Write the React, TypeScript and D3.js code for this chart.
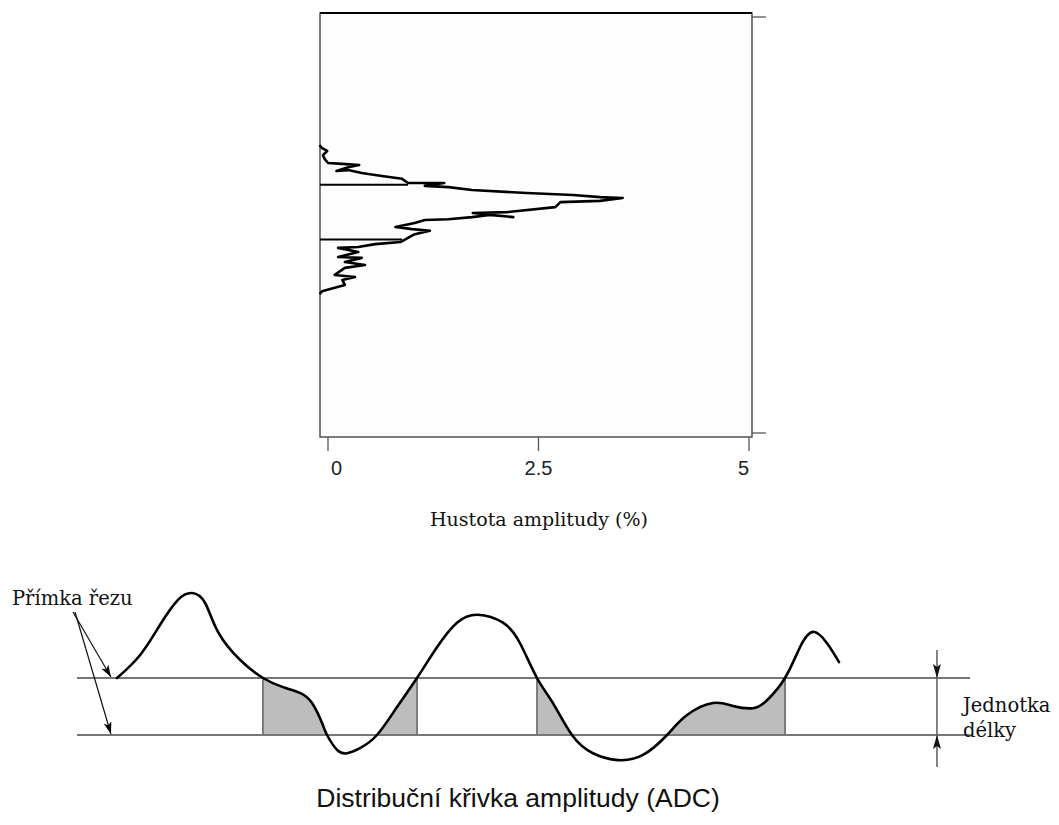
import React, { useEffect, useRef } from "react";
import * as d3 from "d3";

// ---------- Top chart: amplitude density (density %, amplitude level) ----------
const densityTicks = [0, 2.5, 5];
const densityTickLabels = ["0", "2.5", "5"];
const amplitudeTicks = [0, 100];

const densityValues = [
  -0.1, -0.07, -0.01, -0.06, -0.04, 0, 0.17, 0.37, 0.24, 0.1, 0.24, 0.4, 0.64, 0.88, 0.95,
  1.15, 1.38, 1.15, 1.43, 1.71, 2.36, 2.91, 3.23, 3.5, 3.23, 2.76, 2.7, 2.13, 1.72, 2.2,
  1.92, 1.71, 1.43, 1.15, 1.03, 0.8, 1.0, 1.21, 1.03, 0.95, 0.86, 0.56, 0.36, 0.12, 0.36,
  0.12, 0.4, 0.2, 0.44, 0.2, 0.08, 0.32, 0.17, 0.2, 0.08, -0.07, -0.1,
];
const amplitudeValues = [
  69.2, 68.5, 67.8, 66.8, 65.9, 64.9, 64.7, 64.4, 63.9, 63.0, 63.2, 62.5, 61.8, 61.1, 60.1,
  60.1, 60.1, 59.4, 59.1, 58.4, 57.7, 57.2, 56.7, 56.5, 55.8, 55.5, 54.3, 53.1, 52.9, 51.9,
  52.4, 51.9, 51.4, 51.2, 50.5, 49.5, 49.0, 48.6, 47.8, 46.9, 45.9, 45.4, 44.7, 44.5, 43.5,
  42.3, 42.1, 41.1, 40.4, 39.7, 38.0, 37.5, 36.8, 35.6, 34.9, 34.1, 33.4,
];
const densityCutLevels = [59.7, 46.5];
const densityCutEnds = [0.95, 0.88];

// ---------- Bottom chart: amplitude distribution curve ----------
const adcX = [
  4.48, 7.05, 9.29, 11.31, 12.88, 14.33, 15.79, 18.25, 20.83,
  23.07, 24.97, 26.32, 27.44, 28.0, 29.12, 30.24, 31.69, 33.59, 35.83, 38.07, 40.31, 42.55,
  44.9, 47.7, 49.61, 51.51, 53.3, 55.43, 57.78, 60.58, 63.38, 66.07, 68.31, 71.22, 73.46,
  75.7, 77.27, 79.28, 80.96, 82.42, 83.99, 85.33,
];
const adcY = [
  1.0, 1.4, 1.93, 2.37, 2.49, 2.32, 1.81, 1.32, 1.0,
  0.84, 0.74, 0.56, 0.21, 0, -0.26, -0.32, -0.23, 0, 0.49, 1.0, 1.54, 1.97, 2.11, 1.97, 1.61,
  1.0, 0.56, 0, -0.32, -0.44, -0.35, 0, 0.35, 0.56, 0.51, 0.47, 0.61, 1.0, 1.54, 1.81, 1.61,
  1.28,
];
const adcCutLevels = [1, 0];

const xAxisTitle = "Hustota amplitudy (%)";
const cutLabel = "Přímka řezu";
const unitLabel = ["Jednotka", "délky"];
const bottomTitle = "Distribuční křivka amplitudy (ADC)";

const SERIF = "'DejaVu Serif', serif";
const SANS = "'Liberation Sans', Arial, sans-serif";

export default function App() {
  const ref = useRef<SVGSVGElement>(null);

  useEffect(() => {
    const svg = d3.select(ref.current);
    svg.selectAll("*").remove();

    const defs = svg.append("defs");
    defs
      .append("marker")
      .attr("id", "arrowHead")
      .attr("viewBox", "0 0 12 8")
      .attr("refX", 12)
      .attr("refY", 4)
      .attr("markerWidth", 12)
      .attr("markerHeight", 8)
      .attr("markerUnits", "userSpaceOnUse")
      .attr("orient", "auto")
      .append("path")
      .attr("d", "M0,0 L12,4 L0,8 L3,4 Z")
      .attr("fill", "#000");
    defs
      .append("marker")
      .attr("id", "unitHead")
      .attr("viewBox", "0 0 14 8")
      .attr("refX", 14)
      .attr("refY", 4)
      .attr("markerWidth", 14)
      .attr("markerHeight", 8)
      .attr("markerUnits", "userSpaceOnUse")
      .attr("orient", "auto")
      .append("path")
      .attr("d", "M0,0 L14,4 L0,8 L3,4 Z")
      .attr("fill", "#111");

    // ---------------- Top chart ----------------
    const xD = d3.scaleLinear().domain([0, 5]).range([328, 749]);
    const yA = d3.scaleLinear().domain([0, 100]).range([433, 17]);
    const frame = { x0: 320, x1: 752, y0: 13, y1: 437 };

    const top = svg.append("g");
    top
      .append("rect")
      .attr("x", frame.x0)
      .attr("y", frame.y0)
      .attr("width", frame.x1 - frame.x0)
      .attr("height", frame.y1 - frame.y0)
      .attr("fill", "#fdfdfd")
      .attr("stroke", "#444")
      .attr("stroke-width", 1.4);
    top
      .append("line")
      .attr("x1", frame.x0)
      .attr("x2", frame.x1)
      .attr("y1", frame.y0)
      .attr("y2", frame.y0)
      .attr("stroke", "#000")
      .attr("stroke-width", 1.8);

    top
      .selectAll("line.rtick")
      .data(amplitudeTicks)
      .join("line")
      .attr("class", "rtick")
      .attr("x1", frame.x1)
      .attr("x2", frame.x1 + 14)
      .attr("y1", (d) => yA(d))
      .attr("y2", (d) => yA(d))
      .attr("stroke", "#555")
      .attr("stroke-width", 1.3);

    top
      .selectAll("line.btick")
      .data(densityTicks)
      .join("line")
      .attr("class", "btick")
      .attr("x1", (d) => xD(d))
      .attr("x2", (d) => xD(d))
      .attr("y1", frame.y1)
      .attr("y2", frame.y1 + 14)
      .attr("stroke", "#555")
      .attr("stroke-width", 1.3);
    top
      .selectAll("text.blabel")
      .data(densityTicks)
      .join("text")
      .attr("class", "blabel")
      .attr("x", (d, i) => xD(d) + (i === 0 ? 3 : 0))
      .attr("y", 475)
      .attr("text-anchor", (d, i) => (i === 0 ? "start" : i === densityTicks.length - 1 ? "end" : "middle"))
      .attr("font-family", SANS)
      .attr("font-size", 20)
      .attr("fill", "#222")
      .text((d, i) => densityTickLabels[i]);

    top
      .append("text")
      .attr("x", 539)
      .attr("y", 526)
      .attr("text-anchor", "middle")
      .attr("font-family", SERIF)
      .attr("font-size", 19)
      .attr("fill", "#111")
      .text(xAxisTitle);

    top
      .selectAll("line.dcut")
      .data(densityCutLevels)
      .join("line")
      .attr("class", "dcut")
      .attr("x1", frame.x0)
      .attr("x2", (d, i) => xD(densityCutEnds[i]))
      .attr("y1", (d) => yA(d))
      .attr("y2", (d) => yA(d))
      .attr("stroke", "#000")
      .attr("stroke-width", 2);

    const densLine = d3
      .line<number>()
      .x((d) => xD(d))
      .y((d, i) => yA(amplitudeValues[i]));
    top
      .append("path")
      .attr("d", densLine(densityValues) || "")
      .attr("fill", "none")
      .attr("stroke", "#000")
      .attr("stroke-width", 2.6)
      .attr("stroke-linejoin", "round");

    // ---------------- Bottom chart ----------------
    const xP = d3.scaleLinear().domain([0, 100]).range([77, 970]);
    const yU = d3.scaleLinear().domain([0, 1]).range([735, 678]);
    const yTop = yU(1);
    const yBot = yU(0);

    const bottom = svg.append("g");
    const shadeG = bottom.append("g");
    const vertG = bottom.append("g");

    bottom
      .selectAll("line.cut")
      .data(adcCutLevels)
      .join("line")
      .attr("class", "cut")
      .attr("x1", xP(0))
      .attr("x2", xP(100))
      .attr("y1", (d) => yU(d))
      .attr("y2", (d) => yU(d))
      .attr("stroke", "#777")
      .attr("stroke-width", 2);

    const adcLine = d3
      .line<number>()
      .x((d) => xP(d))
      .y((d, i) => yU(adcY[i]))
      .curve(d3.curveNatural);
    const curvePath = bottom
      .append("path")
      .attr("d", adcLine(adcX) || "")
      .attr("fill", "none")
      .attr("stroke", "#000")
      .attr("stroke-width", 2.6)
      .attr("stroke-linecap", "round");

    const node = curvePath.node() as SVGPathElement;
    const total = node.getTotalLength();
    const samples: { x: number; y: number }[] = [];
    for (let l = 0; l <= total; l += 0.5) {
      const p = node.getPointAtLength(l);
      samples.push({ x: p.x, y: p.y });
    }
    const groups: { x: number; y: number }[][] = [];
    let cur: { x: number; y: number }[] = [];
    samples.forEach((p) => {
      if (p.y >= yTop - 0.3 && p.y <= yBot + 0.3) {
        cur.push({ x: p.x, y: Math.max(yTop, Math.min(yBot, p.y)) });
      } else if (cur.length) {
        groups.push(cur);
        cur = [];
      }
    });
    if (cur.length) groups.push(cur);
    groups
      .filter((g) => Math.abs(g[g.length - 1].x - g[0].x) > 4)
      .forEach((g) => {
        const first = g[0];
        const last = g[g.length - 1];
        const poly = [...g, { x: last.x, y: yBot }, { x: first.x, y: yBot }];
        shadeG
          .append("path")
          .attr("d", "M" + poly.map((p) => `${p.x},${p.y}`).join("L") + "Z")
          .attr("fill", "#bdbdbd");
        [first, last].forEach((p) => {
          if (Math.abs(p.y - yTop) < 1.5) {
            vertG
              .append("line")
              .attr("x1", p.x)
              .attr("x2", p.x)
              .attr("y1", yTop)
              .attr("y2", yBot)
              .attr("stroke", "#666")
              .attr("stroke-width", 1.6);
          }
        });
      });

    bottom
      .append("text")
      .attr("x", 12)
      .attr("y", 605)
      .attr("font-family", SERIF)
      .attr("font-size", 19.5)
      .attr("fill", "#111")
      .text(cutLabel);
    adcCutLevels.forEach((lv, i) => {
      bottom
        .append("line")
        .attr("x1", 73 + i * 2)
        .attr("y1", 612)
        .attr("x2", xP(3.8))
        .attr("y2", yU(lv) - 1)
        .attr("stroke", "#111")
        .attr("stroke-width", 1.2)
        .attr("marker-end", "url(#arrowHead)");
    });

    const ux = xP(96.3);
    bottom
      .append("line")
      .attr("x1", ux)
      .attr("x2", ux)
      .attr("y1", yTop - 28)
      .attr("y2", yBot + 32)
      .attr("stroke", "#666")
      .attr("stroke-width", 1.6);
    bottom
      .append("line")
      .attr("x1", ux)
      .attr("x2", ux)
      .attr("y1", yTop - 20)
      .attr("y2", yTop)
      .attr("stroke", "none")
      .attr("marker-end", "url(#unitHead)");
    bottom
      .append("line")
      .attr("x1", ux)
      .attr("x2", ux)
      .attr("y1", yBot + 20)
      .attr("y2", yBot)
      .attr("stroke", "none")
      .attr("marker-end", "url(#unitHead)");
    unitLabel.forEach((t, i) => {
      bottom
        .append("text")
        .attr("x", 963)
        .attr("y", 712 + i * 25)
        .attr("font-family", SERIF)
        .attr("font-size", 19.5)
        .attr("fill", "#111")
        .text(t);
    });

    bottom
      .append("text")
      .attr("x", 518)
      .attr("y", 807)
      .attr("text-anchor", "middle")
      .attr("font-family", SANS)
      .attr("font-size", 26.5)
      .attr("fill", "#111")
      .text(bottomTitle);
  }, []);

  return (
    <svg
      ref={ref}
      width={1059}
      height={825}
      style={{ position: "absolute", left: 0, top: 0, background: "#fff", display: "block" }}
    />
  );
}
